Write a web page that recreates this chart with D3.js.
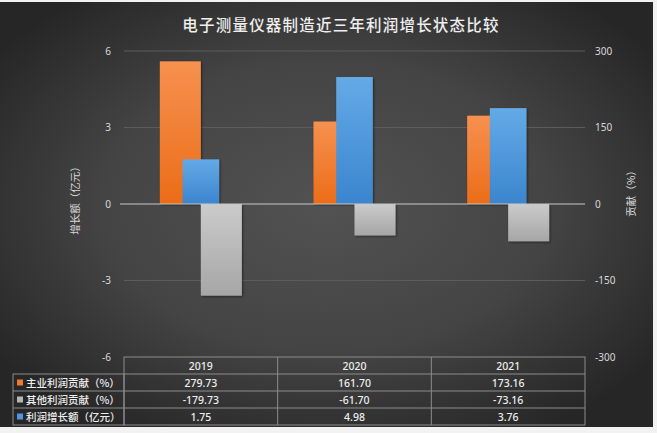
<!DOCTYPE html>
<html><head><meta charset="utf-8">
<script src="https://cdn.jsdelivr.net/npm/d3@7"></script>
<style>
html,body{margin:0;padding:0;background:#f2f2f2;}
svg{display:block;font-family:"Noto Sans CJK SC","Noto Sans",sans-serif;}
</style></head>
<body>
<svg id="chart" width="657" height="433"></svg>
<script>
const title = "电子测量仪器制造近三年利润增长状态比较";
const years = ["2019", "2020", "2021"];
const mainContribution = [279.73, 161.70, 173.16];
const otherContribution = [-179.73, -61.70, -73.16];
const growth = [1.75, 4.98, 3.76];
const leftTicks = [-6, -3, 0, 3, 6];
const rightTicks = [-300, -150, 0, 150, 300];
const seriesNames = ["主业利润贡献（%）", "其他利润贡献（%）", "利润增长额（亿元）"];
const leftAxisTitle = "增长额（亿元）";
const rightAxisTitle = "贡献（%）";

const svg = d3.select("#chart");
const plot = {l: 124, r: 585, t: 51, b: 357};
const rowH = 17;

const defs = svg.append("defs");
const bg = defs.append("radialGradient").attr("id","bg").attr("cx","50%").attr("cy","48%").attr("r","62%");
bg.append("stop").attr("offset","0%").attr("stop-color","#525252");
bg.append("stop").attr("offset","55%").attr("stop-color","#444444");
bg.append("stop").attr("offset","100%").attr("stop-color","#262626");
function lin(id, c1, c2){
  const g = defs.append("linearGradient").attr("id",id).attr("x1",0).attr("y1",0).attr("x2",0).attr("y2",1);
  g.append("stop").attr("offset","0%").attr("stop-color",c1);
  g.append("stop").attr("offset","100%").attr("stop-color",c2);
}
lin("gOrange","#f6914f","#ec6c18");
lin("gGray","#cbcbcb","#a6a6a6");
lin("gBlue","#64aae6","#3b85cf");
const sh = defs.append("filter").attr("id","sh").attr("x","-20%").attr("y","-20%").attr("width","140%").attr("height","140%");
sh.append("feDropShadow").attr("dx",1).attr("dy",1).attr("stdDeviation",1.2).attr("flood-color","#000").attr("flood-opacity",0.5);

svg.append("rect").attr("x",0).attr("y",2).attr("width",653).attr("height",425).attr("fill","url(#bg)");

const x = d3.scaleBand().domain(years).range([plot.l, plot.r]).padding(0);
const yL = d3.scaleLinear().domain([-6, 6]).range([plot.b, plot.t]);
const yR = d3.scaleLinear().domain([-300, 300]).range([plot.b, plot.t]);
const xPair = d3.scaleBand().domain(["main","other"]).range([0, x.bandwidth()]).paddingInner(0).paddingOuter(0.874);
const xSingle = d3.scaleBand().domain(["growth"]).range([0, x.bandwidth()]).paddingInner(0).paddingOuter(1.6);
const num = d => String(d);

svg.append("g").selectAll("line").data(leftTicks.filter(d => d !== 0 && d !== -6)).join("line")
  .attr("x1", plot.l).attr("x2", plot.r)
  .attr("y1", d => yL(d)).attr("y2", d => yL(d))
  .attr("stroke", "#5c5c5c").attr("stroke-width", 1);

const axL = svg.append("g").attr("transform", `translate(${plot.l - 13},0)`)
  .call(d3.axisLeft(yL).tickValues(leftTicks).tickFormat(num).tickSize(0).tickPadding(0));
axL.select(".domain").remove();
axL.selectAll("text").attr("fill","#d8d8d8").style("font-size","10px").style("font-family","'Noto Sans','Liberation Sans',sans-serif");

const axR = svg.append("g").attr("transform", `translate(${plot.r + 10},0)`)
  .call(d3.axisRight(yR).tickValues(rightTicks).tickFormat(num).tickSize(0).tickPadding(0));
axR.select(".domain").remove();
axR.selectAll("text").attr("fill","#d8d8d8").style("font-size","10px").style("font-family","'Noto Sans','Liberation Sans',sans-serif");

const bars = svg.append("g").attr("filter","url(#sh)");
bars.selectAll(".main").data(years).join("rect").attr("class","main")
  .attr("x", d => x(d) + xPair("main"))
  .attr("width", xPair.bandwidth())
  .attr("y", (d,i) => yR(Math.max(0, mainContribution[i])))
  .attr("height", (d,i) => Math.abs(yR(mainContribution[i]) - yR(0)))
  .attr("fill","url(#gOrange)");
bars.selectAll(".other").data(years).join("rect").attr("class","other")
  .attr("x", d => x(d) + xPair("other"))
  .attr("width", xPair.bandwidth())
  .attr("y", (d,i) => yR(Math.max(0, otherContribution[i])))
  .attr("height", (d,i) => Math.abs(yR(otherContribution[i]) - yR(0)))
  .attr("fill","url(#gGray)");
bars.selectAll(".growth").data(years).join("rect").attr("class","growth")
  .attr("x", d => x(d) + xSingle("growth"))
  .attr("width", xSingle.bandwidth())
  .attr("y", (d,i) => yL(Math.max(0, growth[i])))
  .attr("height", (d,i) => Math.abs(yL(growth[i]) - yL(0)))
  .attr("fill","url(#gBlue)");

svg.append("line").attr("x1", plot.l - 4).attr("x2", plot.r)
  .attr("y1", yL(0)).attr("y2", yL(0)).attr("stroke","#c8c8c8").attr("stroke-width",1);

svg.append("text").attr("x", 341).attr("y", 31).attr("text-anchor","middle")
  .attr("fill","#eeeeee").style("font-size","15.5px").style("font-weight","500").style("letter-spacing","1.2px")
  .text(title);

svg.append("text").attr("transform", `translate(79,198) rotate(-90)`).attr("text-anchor","middle")
  .attr("fill","#d8d8d8").style("font-size","10.5px").text(leftAxisTitle);
svg.append("text").attr("transform", `translate(635,191) rotate(-90)`).attr("text-anchor","middle")
  .attr("fill","#d8d8d8").style("font-size","10.5px").text(rightAxisTitle);

const table = svg.append("g");
const tTop = plot.b;
const labelLeft = 13;
const borderCol = "#8c8c8c";
table.append("rect").attr("x", plot.l).attr("y", tTop).attr("width", plot.r - plot.l).attr("height", rowH * 4)
  .attr("fill","none").attr("stroke",borderCol);
table.append("rect").attr("x", labelLeft).attr("y", tTop + rowH).attr("width", plot.l - labelLeft).attr("height", rowH * 3)
  .attr("fill","none").attr("stroke",borderCol);
[1,2,3].forEach(r => {
  table.append("line").attr("x1", r === 1 ? plot.l : labelLeft).attr("x2", plot.r)
    .attr("y1", tTop + r*rowH).attr("y2", tTop + r*rowH).attr("stroke",borderCol);
});
years.slice(1).forEach(yr => {
  table.append("line").attr("x1", x(yr)).attr("x2", x(yr)).attr("y1", tTop).attr("y2", tTop + 4*rowH).attr("stroke",borderCol);
});
const txtStyle = s => s.attr("fill","#eeeeee").style("font-size","10.5px").style("font-weight","500");
table.selectAll(".yr").data(years).join("text").attr("class","yr")
  .attr("x", d => x(d) + x.bandwidth()/2).attr("y", tTop + rowH/2 + 4).attr("text-anchor","middle")
  .call(txtStyle).style("font-family","'Noto Sans',sans-serif").text(d => d);
const rows = [mainContribution, otherContribution, growth];
const colors = ["#ef7a2e","#b5b5b5","#4f97dd"];
rows.forEach((vals, r) => {
  const cy = tTop + (r+1)*rowH + rowH/2;
  table.append("rect").attr("x", 17).attr("y", cy - 3).attr("width", 6).attr("height", 6).attr("fill", colors[r]);
  table.append("text").attr("x", 26).attr("y", cy + 4).call(txtStyle).text(seriesNames[r]);
  table.selectAll(".v"+r).data(years).join("text").attr("class","v"+r)
    .attr("x", d => x(d) + x.bandwidth()/2).attr("y", cy + 4).attr("text-anchor","middle")
    .call(txtStyle).style("font-family","'Noto Sans',sans-serif").text((d,i) => vals[i].toFixed(2));
});
</script>
</body></html>
